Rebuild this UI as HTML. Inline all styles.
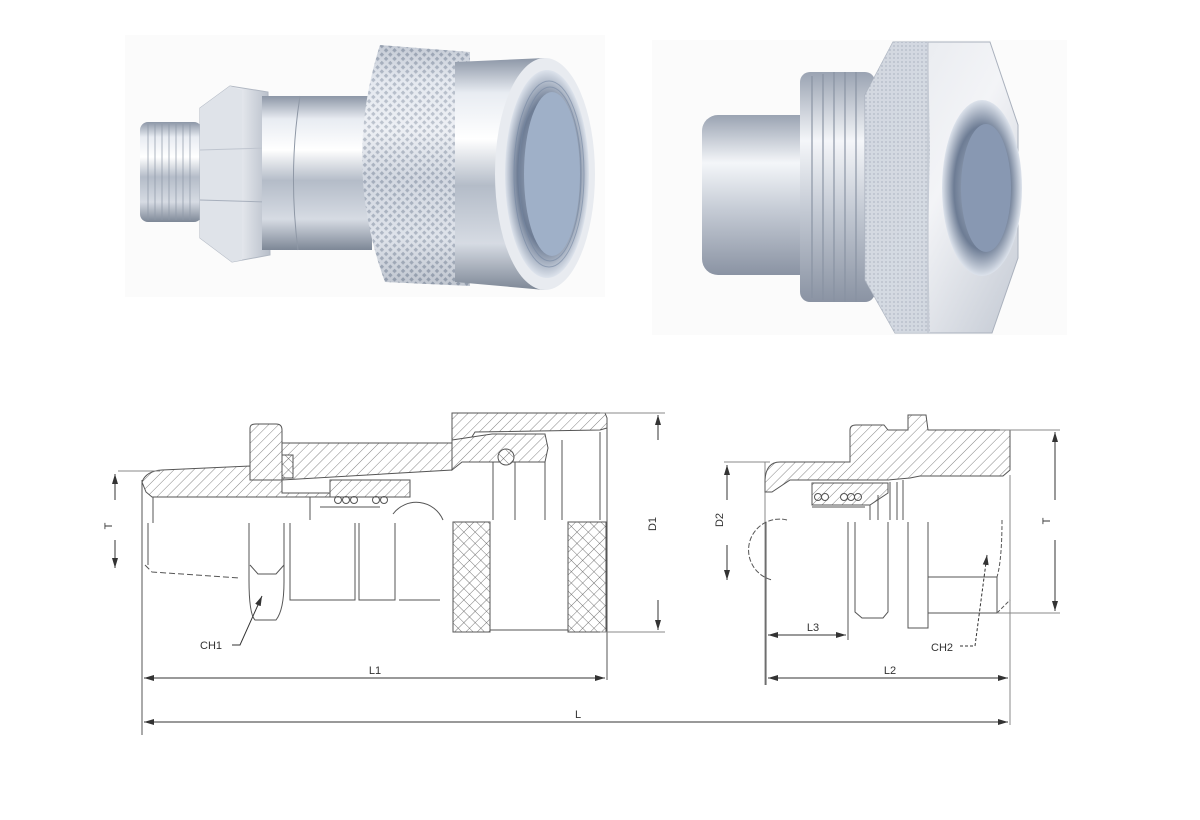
<!DOCTYPE html>
<html><head><meta charset="utf-8"><style>
html,body{margin:0;padding:0;background:#fff;}
svg{display:block;}
text{font-family:"Liberation Sans",sans-serif;font-size:11px;fill:#333;}
</style></head><body>
<svg width="1200" height="820" viewBox="0 0 1200 820" xmlns="http://www.w3.org/2000/svg">
<defs>
<linearGradient id="cyl" x1="0" y1="0" x2="0" y2="1">
<stop offset="0" stop-color="#8c96a6"/><stop offset="0.15" stop-color="#e8ecf2"/><stop offset="0.35" stop-color="#ffffff"/><stop offset="0.55" stop-color="#b4bcc8"/><stop offset="0.8" stop-color="#d6dbe3"/><stop offset="1" stop-color="#7d8796"/>
</linearGradient>
<linearGradient id="cyl2" x1="0" y1="0" x2="0" y2="1">
<stop offset="0" stop-color="#9aa3b2"/><stop offset="0.3" stop-color="#f4f6f9"/><stop offset="0.6" stop-color="#c4cad4"/><stop offset="1" stop-color="#8a93a3"/>
</linearGradient>
<linearGradient id="hexg" x1="0" y1="0" x2="1" y2="0">
<stop offset="0" stop-color="#c9ced8"/><stop offset="0.5" stop-color="#eef0f4"/><stop offset="1" stop-color="#b7bec9"/>
</linearGradient>
<linearGradient id="face" x1="0" y1="0" x2="1" y2="1">
<stop offset="0" stop-color="#e4e7ec"/><stop offset="0.5" stop-color="#f3f4f7"/><stop offset="1" stop-color="#c3c9d3"/>
</linearGradient>
<radialGradient id="hole" cx="0.5" cy="0.5" r="0.5">
<stop offset="0" stop-color="#c5d0e0"/><stop offset="0.7" stop-color="#6d7c94"/><stop offset="1" stop-color="#dde3ec"/>
</radialGradient>
<pattern id="knurl" width="6" height="6" patternUnits="userSpaceOnUse" patternTransform="rotate(45)">
<rect width="6" height="6" fill="#e3e7ee"/><rect x="1" y="1" width="3.2" height="3.2" fill="#9aa4b4"/>
</pattern>
<pattern id="dots" width="4" height="4" patternUnits="userSpaceOnUse">
<rect width="4" height="4" fill="#cfd5de"/><circle cx="2" cy="2" r="0.9" fill="#aab2c0"/>
</pattern>
<pattern id="hatch" width="7" height="7" patternUnits="userSpaceOnUse" patternTransform="rotate(45)">
<rect width="7" height="7" fill="#fff"/><line x1="0" y1="0" x2="0" y2="7" stroke="#666" stroke-width="0.8"/>
</pattern>
<pattern id="xh" width="8" height="8" patternUnits="userSpaceOnUse" patternTransform="rotate(45)">
<rect width="8" height="8" fill="#fff"/><line x1="0" y1="0" x2="0" y2="8" stroke="#555" stroke-width="0.8"/><line x1="0" y1="0" x2="8" y2="0" stroke="#555" stroke-width="0.8"/>
</pattern>
<marker id="ar" markerWidth="10" markerHeight="6" refX="10" refY="3" orient="auto" markerUnits="userSpaceOnUse"><path d="M0,0 L10,3 L0,6 z" fill="#333"/></marker>
</defs>

<!-- photo backgrounds -->
<rect x="125" y="35" width="480" height="262" fill="#fbfbfb"/>
<rect x="652" y="40" width="415" height="295" fill="#fbfbfb"/>

<!-- left photo -->
<rect x="140" y="122" width="62" height="100" rx="8" fill="url(#cyl)"/>
<g stroke="#8f99a8" stroke-width="1.2" opacity="0.6">
<line x1="148" y1="124" x2="148" y2="220"/><line x1="155" y1="124" x2="155" y2="220"/><line x1="162" y1="124" x2="162" y2="220"/><line x1="169" y1="124" x2="169" y2="220"/><line x1="176" y1="124" x2="176" y2="220"/><line x1="183" y1="124" x2="183" y2="220"/><line x1="190" y1="124" x2="190" y2="220"/></g>
<polygon points="200,108 230,86 268,92 270,255 232,262 200,238" fill="url(#hexg)" stroke="#b0b7c2" stroke-width="1"/>
<polygon points="200,108 230,86 242,90 242,260 232,262 200,238" fill="#dfe3e9"/>
<line x1="200" y1="150" x2="268" y2="148" stroke="#bfc5cf"/><line x1="200" y1="200" x2="268" y2="202" stroke="#a7afbc"/>
<rect x="262" y="96" width="110" height="154" fill="url(#cyl)"/>
<path d="M300,96 Q288,172 298,250" stroke="#8f98a6" fill="none"/>
<path d="M380,45 L470,52 L470,286 L385,282 Q342,165 380,45 z" fill="url(#knurl)"/>
<path d="M380,45 L470,52 L470,286 L385,282 Q342,165 380,45 z" fill="url(#cyl)" opacity="0.35"/>
<path d="M455,62 L545,58 Q600,175 545,290 L455,282 z" fill="url(#cyl)"/>
<ellipse cx="545" cy="174" rx="50" ry="116" fill="#e8ebf0"/>
<ellipse cx="547" cy="174" rx="42" ry="104" fill="url(#hole)"/>
<ellipse cx="552" cy="174" rx="28" ry="82" fill="#9fb0c8"/>
<g stroke="#7587a2" fill="none" opacity="0.6"><ellipse cx="549" cy="174" rx="35" ry="93"/><ellipse cx="550" cy="174" rx="31" ry="87"/></g>

<!-- right photo -->
<rect x="702" y="115" width="115" height="160" rx="16" fill="url(#cyl2)"/>
<rect x="800" y="72" width="75" height="230" rx="10" fill="url(#cyl2)"/>
<g stroke="#8892a2" stroke-width="1.6" opacity="0.7"><line x1="812" y1="76" x2="812" y2="298"/><line x1="823" y1="74" x2="823" y2="300"/><line x1="834" y1="72" x2="834" y2="302"/><line x1="845" y1="72" x2="845" y2="302"/><line x1="856" y1="72" x2="856" y2="302"/></g>
<polygon points="865,95 893,42 990,42 1018,125 1018,258 992,333 895,333 865,280" fill="url(#face)" stroke="#aab1bd"/>
<polygon points="865,95 893,42 928,42 930,150 928,240 930,333 895,333 865,280" fill="url(#dots)" opacity="0.85"/>
<line x1="928" y1="42" x2="928" y2="333" stroke="#b8bec9"/>
<ellipse cx="982" cy="188" rx="40" ry="88" fill="url(#hole)"/>
<ellipse cx="986" cy="188" rx="25" ry="64" fill="#8898b2"/>

<!-- ============ drawing 1 ============ -->
<g stroke="#555" stroke-width="1" fill="none">
<path d="M142,482 Q146,471 162,470 L250,466 L250,480 L282,480 L282,493 L330,493 L330,497 L152,497 L146,492 z" fill="url(#hatch)"/>
<path d="M250,428 Q250,424 256,424 L276,424 Q282,424 282,430 L282,480 L250,480 z" fill="url(#hatch)"/>
<path d="M282,443 L452,443 L452,470 L282,480 z" fill="url(#hatch)"/>
<path d="M330,480 L410,480 L410,497 L330,497 z" fill="url(#hatch)"/>
<path d="M282,455 L293,455 L293,478 L282,478 z" fill="url(#xh)"/>
<path d="M452,413 L605,413 L607,418 L607,428 L600,430 L475,432 L470,440 L452,445 z" fill="url(#hatch)"/>
<path d="M452,440 L492,434 L545,434 L548,448 L545,462 L462,462 L452,470 z" fill="url(#hatch)"/>
<circle cx="506" cy="457" r="8" fill="url(#xh)"/>
<circle cx="338" cy="500" r="3.5"/><circle cx="346" cy="500" r="3.5"/><circle cx="354" cy="500" r="3.5"/><circle cx="376" cy="500" r="3.5"/><circle cx="384" cy="500" r="3.5"/>
<path d="M380,507 L320,507"/><path d="M310,497 L310,520"/>
<path d="M393,514 A29,29 0 0 1 443,520"/>
<line x1="153" y1="497" x2="153" y2="523"/>
<line x1="148" y1="523" x2="148" y2="565"/>
<path d="M145,565 L152,572 L240,578" stroke-dasharray="6,3"/>
<line x1="142" y1="480" x2="142" y2="735"/>
<path d="M249,523 L249,580 Q249,614 255,620 L276,620 Q284,610 284,582 L284,523"/>
<path d="M250,565 L258,574 L276,574 L284,565"/>
<path d="M290,523 L290,600 L355,600 L355,523 M359,523 L359,600 L395,600 L395,523 M399,600 L440,600"/>
<rect x="453" y="522" width="37" height="110" fill="url(#xh)"/>
<rect x="568" y="522" width="38" height="110" fill="url(#xh)"/>
<path d="M490,630 L568,630 M493,462 L493,520 M545,462 L545,520 M515,462 L515,520 M562,440 L562,520 M600,432 L600,520 M607,418 L607,680"/>
<line x1="118" y1="471" x2="160" y2="471" stroke="#888"/>
<line x1="600" y1="413" x2="665" y2="413" stroke="#888"/>
<line x1="600" y1="632" x2="665" y2="632" stroke="#888"/>
<line x1="765" y1="462" x2="765" y2="685" stroke="#888"/>
<line x1="1010" y1="475" x2="1010" y2="725" stroke="#888"/>
</g>
<g stroke="#333" stroke-width="1" fill="none">
<line x1="115" y1="500" x2="115" y2="474" marker-end="url(#ar)"/>
<line x1="115" y1="540" x2="115" y2="568" marker-end="url(#ar)"/>
<line x1="658" y1="440" x2="658" y2="415" marker-end="url(#ar)"/>
<line x1="658" y1="600" x2="658" y2="630" marker-end="url(#ar)"/>
<line x1="375" y1="678" x2="144" y2="678" marker-end="url(#ar)"/>
<line x1="375" y1="678" x2="605" y2="678" marker-end="url(#ar)"/>
<line x1="575" y1="722" x2="144" y2="722" marker-end="url(#ar)"/>
<line x1="575" y1="722" x2="1008" y2="722" marker-end="url(#ar)"/>
<path d="M232,645 L240,645 L262,596" marker-end="url(#ar)"/>
</g>
<text x="112" y="526" transform="rotate(-90 112 526)" text-anchor="middle">T</text>
<text x="658" y="526" transform="rotate(-90 656 526)" text-anchor="middle">D1</text>
<text x="200" y="649">CH1</text>
<text x="375" y="674" text-anchor="middle">L1</text>
<text x="578" y="718" text-anchor="middle">L</text>

<!-- ============ drawing 2 ============ -->
<g stroke="#555" stroke-width="1" fill="none">
<path d="M765,480 Q766,462 780,462 L850,462 L850,430 Q850,425 856,425 L884,425 L888,430 L908,430 L908,415 L926,415 L928,430 L1010,430 L1010,470 L1003,476 L920,476 L910,478 L888,480 L790,480 L772,492 L765,492 z" fill="url(#hatch)"/>
<path d="M812,483 L888,483 L888,493 L870,505 L812,505 z" fill="url(#hatch)"/>
<circle cx="818" cy="497" r="3.5"/><circle cx="825" cy="497" r="3.5"/><circle cx="844" cy="497" r="3.5"/><circle cx="851" cy="497" r="3.5"/><circle cx="858" cy="497" r="3.5"/>
<path d="M812,507 L865,507"/>
<path d="M787,520 A28,28 0 1 0 772,580" stroke-dasharray="5,2"/>
<path d="M870,505 L870,520 M878,495 L878,520 M890,482 L890,520 M897,482 L897,520 M903,480 L903,520"/>
<path d="M855,522 L855,612 L862,618 L883,618 L888,612 L888,522"/>
<path d="M908,522 L908,628 L928,628 L928,522"/>
<path d="M928,577 L997,577 L997,613 L928,613"/>
<path d="M997,613 L1010,600 M1002,520 Q1002,560 997,577" stroke-dasharray="4,2"/>
<line x1="766" y1="522" x2="766" y2="685"/>
<line x1="848" y1="522" x2="848" y2="640"/>
<line x1="724" y1="462" x2="770" y2="462" stroke="#888"/>
<line x1="1000" y1="430" x2="1060" y2="430" stroke="#888"/>
<line x1="997" y1="613" x2="1060" y2="613" stroke="#888"/>
</g>
<g stroke="#333" stroke-width="1" fill="none">
<line x1="727" y1="500" x2="727" y2="465" marker-end="url(#ar)"/>
<line x1="727" y1="545" x2="727" y2="580" marker-end="url(#ar)"/>
<line x1="1055" y1="500" x2="1055" y2="432" marker-end="url(#ar)"/>
<line x1="1055" y1="540" x2="1055" y2="611" marker-end="url(#ar)"/>
<line x1="805" y1="635" x2="768" y2="635" marker-end="url(#ar)"/>
<line x1="805" y1="635" x2="846" y2="635" marker-end="url(#ar)"/>
<line x1="888" y1="678" x2="768" y2="678" marker-end="url(#ar)"/>
<line x1="888" y1="678" x2="1008" y2="678" marker-end="url(#ar)"/>
<path d="M960,646 L975,646 L987,555" stroke-dasharray="3,2" marker-end="url(#ar)"/>
</g>
<text x="725" y="522" transform="rotate(-90 723 522)" text-anchor="middle">D2</text>
<text x="1052" y="523" transform="rotate(-90 1050 523)" text-anchor="middle">T</text>
<text x="813" y="631" text-anchor="middle">L3</text>
<text x="890" y="674" text-anchor="middle">L2</text>
<text x="931" y="651">CH2</text>
</svg>
</body></html>
